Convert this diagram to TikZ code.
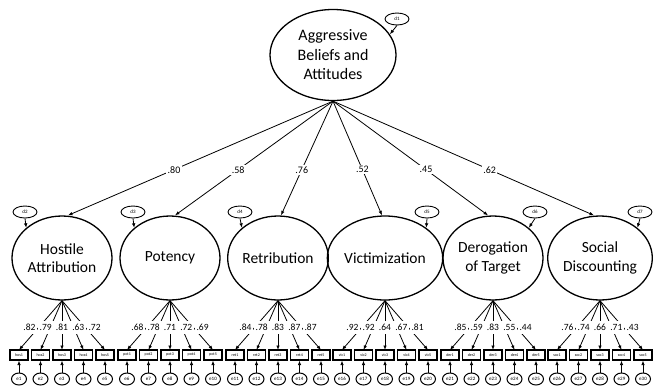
\documentclass[tikz,border=0pt]{standalone}
\usepackage{fontspec}
\setmainfont{Carlito}
\usetikzlibrary{arrows.meta,shapes.geometric,calc}
\begin{document}
\begin{tikzpicture}[x=1pt,y=-1pt,
  arr/.style={-{Latex[length=4.5pt,width=3.5pt]}, line width=0.8pt},
  latent/.style={draw, ellipse, line width=1.3pt, inner sep=0pt, align=center},
  dist/.style={draw, ellipse, line width=0.9pt, minimum width=24pt, minimum height=12pt, inner sep=0pt, font=\fontsize{5}{5}\selectfont},
  ind/.style={draw, rectangle, line width=1.2pt, fill=white, minimum width=18pt, minimum height=10pt, inner sep=0pt, font=\fontsize{4}{4}\selectfont},
  err/.style={draw, ellipse, line width=1pt, fill=white, minimum width=15pt, minimum height=12pt, inner sep=0pt, font=\fontsize{5}{5}\selectfont},
  pl/.style={fill=white, inner sep=1.5pt, font=\fontsize{10}{10}\selectfont},
  ll/.style={fill=white, inner sep=0pt, minimum width=16pt, minimum height=13pt, font=\fontsize{9.5}{9.5}\selectfont}]
\useasboundingbox (0,0) rectangle (655,391);
\node[latent, minimum width=126pt, minimum height=91pt, font=\fontsize{16}{19.5}\selectfont] (A) at (333,55) {Aggressive\\Beliefs and\\Attitudes};
\node[dist] (D1) at (397,19) {d1};
\draw[arr] (D1.south) -- (A.20);
% factors
\foreach \i/\x/\t/\ds/\an/\sx/\p in {
  1/62/{Hostile\\Attribution}/-37/north west/6/hos,
  2/170/{Potency}/-37/north west/5/pot,
  3/278/{Retribution}/-38/north west/3/ret,
  4/385/{Victimization}/42/north east/-3/vic,
  5/493/{Derogation\\of Target}/42/north east/-5/der,
  6/600/{Social\\Discounting}/40/north east/-6/soc}{
  \node[latent, minimum width=100pt, minimum height=84pt, font=\fontsize{15.5}{18.5}\selectfont] (F\i) at (\x,258) {\t};
  \pgfmathtruncatemacro\j{\i+1}
  \node[dist] (D\j) at (\x+\ds,212) {d\j};
  \draw[arr] (D\j.south) -- (F\i.\an);
  \draw[arr] (A.south) -- ($(F\i.north)+(\sx,0)$);
  \foreach \k in {1,...,5}{
    \pgfmathtruncatemacro\n{(\i-1)*5+\k}
    \draw[arr] (F\i.south) -- ($(\x+\k*21.5-64.5,350)$);
    \node[ind] (B\i\k) at (\x+\k*21.5-64.5,355) {\p\k};
    \node[err] (E\i\k) at (\x+\k*21.5-64.5,379) {e\n};
    \draw[arr] (E\i\k) -- (B\i\k);
  }
}
% structural path labels
\foreach \i/\sx/\v in {1/6/.80,2/5/.58,3/3/.76,4/-3/.52,5/-5/.45,6/-6/.62}{
  \path (A.south) -- ($(F\i.north)+(\sx,0)$) node[pl,pos=0.6] (P\i) {\v};
}
% loading labels
\foreach \i/\x/\a/\b/\c/\d/\e in {
  1/62/.82/.79/.81/.63/.72,
  2/170/.68/.78/.71/.72/.69,
  3/278/.84/.78/.83/.87/.87,
  4/385/.92/.92/.64/.67/.81,
  5/493/.85/.59/.83/.55/.44,
  6/600/.76/.74/.66/.71/.43}{
  \foreach \k/\v in {1/\a,2/\b,3/\c,4/\d,5/\e}{
    \node[ll] (L\i\k) at (\x+\k*16.3-48.9,327) {\v};
  }
}
\end{tikzpicture}
\end{document}
